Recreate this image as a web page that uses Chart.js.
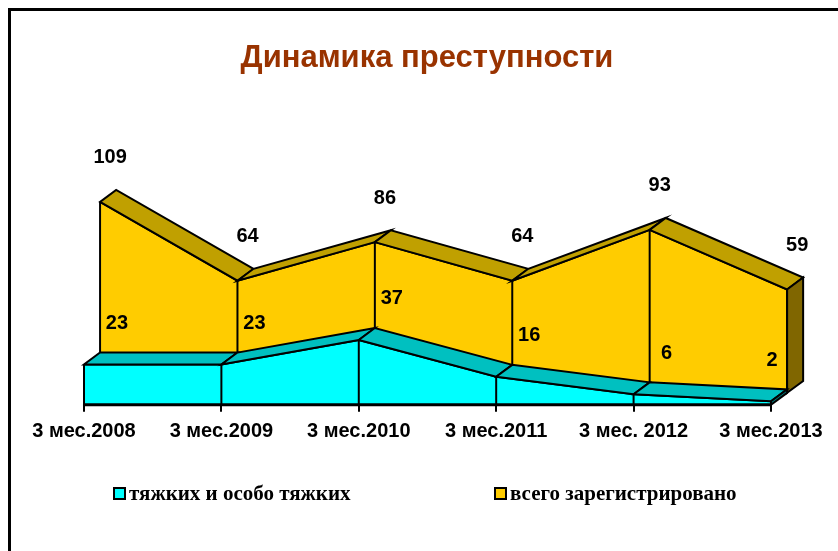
<!DOCTYPE html>
<html><head><meta charset="utf-8">
<script src="https://cdn.jsdelivr.net/npm/chart.js@4"></script>
<style>
html,body{margin:0;padding:0;background:#fff;}
#wrap{position:relative;width:838px;height:551px;overflow:hidden;}
#frame{position:absolute;left:8px;top:8px;width:900px;height:600px;border-left:3px solid #000;border-top:3px solid #000;}
canvas{position:absolute;left:0;top:0;}
#legend{position:absolute;top:0;left:0;width:838px;height:551px;pointer-events:none;font:bold 21px "Liberation Serif","Times New Roman",serif;color:#000;}
.item{position:absolute;top:483px;height:20px;display:flex;align-items:center;white-space:nowrap;}
.box{width:9px;height:9px;border:2px solid #000;margin-right:3px;}
</style></head>
<body><div id="wrap"><div id="frame"></div><canvas id="c" width="838" height="551"></canvas><div id="legend"></div></div>
<script>
const CATEGORIES = ['3 мес.2008','3 мес.2009','3 мес.2010','3 мес.2011','3 мес. 2012','3 мес.2013'];
const SERIOUS = [23, 23, 37, 16, 6, 2];
const TOTAL = [109, 64, 86, 64, 93, 59];
const SERIES_NAMES = ['тяжких и особо тяжких', 'всего зарегистрировано'];
const TITLE = 'Динамика преступности';

const DEPTH_X = 0.117, DEPTH_Y = 6.8, X_MIN = -0.307, X_MAX = 5.3, Y_MAX = 131;
const COLORS = {
  serious: {front: '#00FFFF', top: '#00C0C0', side: '#008080'},
  total: {front: '#FFCC00', top: '#C0A000', side: '#806600'}
};

function depth(chart) {
  const s = chart.scales;
  return {
    dx: s.x2.getPixelForValue(0) - s.x.getPixelForValue(0),
    dy: s.y2.getPixelForValue(0) - s.y.getPixelForValue(0)
  };
}

function drawSolid(chart, meta, col, baseY) {
  const ctx = chart.ctx, pts = meta.data, {dx, dy} = depth(chart);
  ctx.save();
  ctx.lineWidth = 2; ctx.strokeStyle = '#000'; ctx.lineJoin = 'miter';
  for (let i = 0; i < pts.length - 1; i++) {
    const a = pts[i], b = pts[i + 1];
    ctx.beginPath();
    ctx.moveTo(a.x, a.y); ctx.lineTo(b.x, b.y);
    ctx.lineTo(b.x + dx, b.y + dy); ctx.lineTo(a.x + dx, a.y + dy);
    ctx.closePath();
    ctx.fillStyle = col.top; ctx.fill(); ctx.stroke();
  }
  const l = pts[pts.length - 1];
  ctx.beginPath();
  ctx.moveTo(l.x, l.y); ctx.lineTo(l.x + dx, l.y + dy);
  ctx.lineTo(l.x + dx, baseY + dy); ctx.lineTo(l.x, baseY);
  ctx.closePath();
  ctx.fillStyle = col.side; ctx.fill(); ctx.stroke();
  pts.forEach(p => {
    ctx.beginPath(); ctx.moveTo(p.x, p.y); ctx.lineTo(p.x, baseY); ctx.stroke();
  });
  ctx.restore();
}

const solidPlugin = {
  id: 'solid3d',
  afterDatasetDraw(chart, args) {
    const meta = args.meta;
    if (args.index === 1) drawSolid(chart, meta, COLORS.total, chart.scales.y2.getPixelForValue(0));
    if (args.index === 0) drawSolid(chart, meta, COLORS.serious, chart.scales.y.getPixelForValue(0));
  },
  afterDatasetsDraw(chart) {
    const ctx = chart.ctx, sx = chart.scales.x, sy = chart.scales.y;
    const {dx, dy} = depth(chart);
    ctx.save();
    ctx.strokeStyle = '#000'; ctx.lineWidth = 3;
    ctx.beginPath();
    ctx.moveTo(sx.getPixelForValue(0) - 1, sy.getPixelForValue(0));
    ctx.lineTo(sx.getPixelForValue(CATEGORIES.length - 1) + 1, sy.getPixelForValue(0));
    ctx.stroke();
    ctx.font = 'bold 20px "Liberation Sans", Arial, sans-serif';
    ctx.fillStyle = '#000'; ctx.textAlign = 'center'; ctx.textBaseline = 'middle';
    const cap = sx.getPixelForValue(CATEGORIES.length - 1) + 1;
    chart.getDatasetMeta(1).data.forEach((p, i) => {
      ctx.fillText(String(TOTAL[i]), p.x + dx - 6, p.y + dy - 32);
    });
    chart.getDatasetMeta(0).data.forEach((p, i) => {
      ctx.fillText(String(SERIOUS[i]), Math.min(p.x + 33, cap), p.y - 41);
    });
    ctx.restore();
  }
};

const intTicks = (scale) => { scale.ticks = CATEGORIES.map((_, i) => ({value: i})); };

new Chart(document.getElementById('c'), {
  type: 'line',
  data: {
    datasets: [
      {
        label: SERIES_NAMES[0],
        data: SERIOUS.map((v, i) => ({x: i, y: v})),
        xAxisID: 'x', yAxisID: 'y',
        fill: 'origin', backgroundColor: COLORS.serious.front,
        borderColor: '#000', borderWidth: 2, pointRadius: 0, tension: 0, clip: false
      },
      {
        label: SERIES_NAMES[1],
        data: TOTAL.map((v, i) => ({x: i, y: v})),
        xAxisID: 'x2', yAxisID: 'y2',
        fill: 'origin', backgroundColor: COLORS.total.front,
        borderColor: '#000', borderWidth: 2, pointRadius: 0, tension: 0, clip: false
      }
    ]
  },
  options: {
    responsive: false, animation: false, devicePixelRatio: 1,
    layout: {padding: {left: 41.8, right: 25.8, top: 0, bottom: 99.2}},
    scales: {
      x: {
        type: 'linear', min: X_MIN, max: X_MAX, position: 'bottom',
        afterBuildTicks: intTicks,
        border: {display: false},
        grid: {display: true, drawOnChartArea: false, drawTicks: true, tickLength: 7, color: '#000', lineWidth: 2},
        ticks: {
          padding: 8, color: '#000', maxRotation: 0, autoSkip: false,
          font: {family: '"Liberation Sans", Arial, sans-serif', size: 20, weight: 'bold'},
          callback: (v) => CATEGORIES[v] ?? ''
        }
      },
      x2: {type: 'linear', display: false, min: X_MIN - DEPTH_X, max: X_MAX - DEPTH_X},
      y: {type: 'linear', display: false, min: 0, max: Y_MAX},
      y2: {type: 'linear', display: false, min: -DEPTH_Y, max: Y_MAX - DEPTH_Y}
    },
    plugins: {
      legend: {display: false},
      tooltip: {enabled: false},
      title: {
        display: true, text: TITLE, color: '#993300',
        font: {family: '"Liberation Sans", Arial, sans-serif', size: 31, weight: 'bold'},
        padding: {top: 40, bottom: 98}
      }
    }
  },
  plugins: [solidPlugin]
});

const legend = document.getElementById('legend');
const legendPos = [113, 494];
[COLORS.serious.front, COLORS.total.front].forEach((c, i) => {
  const it = document.createElement('div');
  it.className = 'item';
  it.style.left = legendPos[i] + 'px';
  const b = document.createElement('span'); b.className = 'box'; b.style.background = c;
  const t = document.createElement('span'); t.textContent = SERIES_NAMES[i];
  it.appendChild(b); it.appendChild(t); legend.appendChild(it);
});
</script>
</body></html>
